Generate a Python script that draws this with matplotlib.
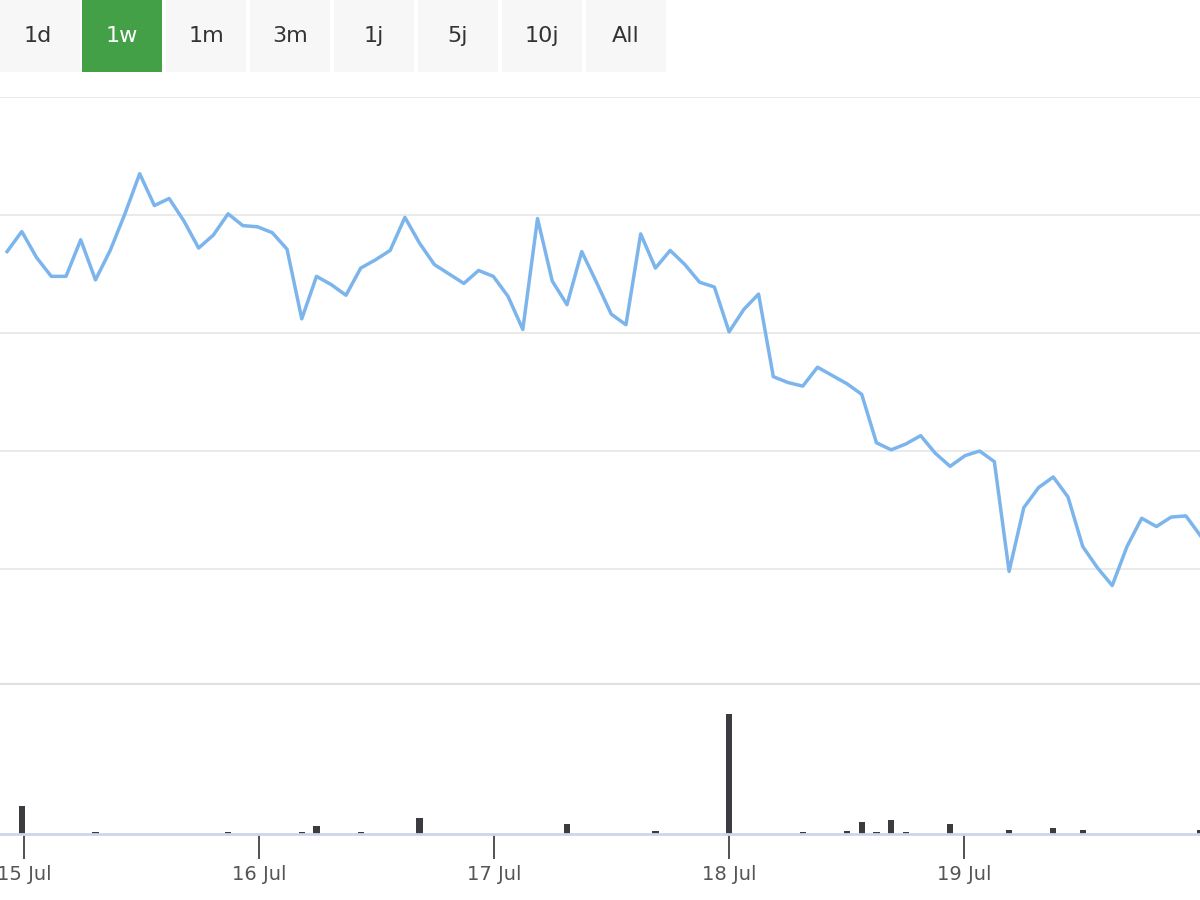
import numpy as np
import matplotlib
matplotlib.use("Agg")
import matplotlib.pyplot as plt
from matplotlib.patches import Rectangle

buttons = ["1d", "1w", "1m", "3m", "1j", "5j", "10j", "All"]
active = "1w"
prices = [3.69,3.86,3.64,3.48,3.48,3.79,3.45,3.70,4.01,4.35,4.08,4.14,3.95,3.72,3.83,4.01,
          3.91,3.90,3.85,3.71,3.12,3.48,3.41,3.32,3.55,3.62,3.70,3.98,3.76,3.58,3.50,3.42,
          3.53,3.48,3.31,3.03,3.97,3.44,3.24,3.69,3.43,3.16,3.07,3.84,3.55,3.70,3.58,3.43,
          3.39,3.01,3.20,3.33,2.63,2.58,2.55,2.71,2.64,2.57,2.48,2.07,2.01,2.06,2.13,1.98,
          1.87,1.96,2.00,1.91,0.98,1.52,1.69,1.78,1.61,1.19,1.01,0.86,1.19,1.43,1.36,1.44,
          1.45,1.28]
vol_idx = [1,6,15,20,21,24,28,38,44,49,54,57,58,59,60,61,64,68,71,73,81]
vol_val = [28000,2000,2000,2000,8000,2000,16000,10000,3000,120000,2000,3000,12000,2000,14000,2000,10000,4000,6000,4000,4000]
day_ticks = [15,16,17,18,19]
day_labels = ["15 Jul","16 Jul","17 Jul","18 Jul","19 Jul"]

n = len(prices)
t = 14.928 + np.arange(n) * 0.0627
volume = np.zeros(n)
for i, v in zip(vol_idx, vol_val):
    if i < n:
        volume[i] = v

fig = plt.figure(figsize=(12, 9), dpi=100)
fig.patch.set_facecolor("white")

for k, b in enumerate(buttons):
    x0 = k * 84 / 1200
    on = b == active
    fig.patches.append(Rectangle((x0 - 2/1200 if k else 0, 1 - 72/900), 80/1200, 72/900, transform=fig.transFigure,
                                 facecolor="#43a047" if on else "#f7f7f7", edgecolor="none"))
    fig.text(x0 + 38/1200, 1 - 36/900, b, ha="center", va="center", fontsize=16,
             color="white" if on else "#333333")

xl = (14.898, 20.004)
ax = fig.add_axes([0, 215/900, 1, 588/900])
ax.plot(t, prices, color="#7cb5ec", lw=2.5)
ax.set_xlim(*xl)
ax.set_ylim(0.017, 5)
ax.set_yticks([1, 2, 3, 4, 5])
ax.yaxis.grid(True, color="#e6e6e6", lw=1.2)
ax.tick_params(left=False, labelleft=False, bottom=False, labelbottom=False)
for s in ax.spines.values():
    s.set_visible(False)
ax.axhline(0.017, color="#e0e0e0", lw=3)

vx = fig.add_axes([0, 66/900, 1, 148/900])
vx.bar(t, volume, width=0.027, color="#3c3c40")
vx.set_xlim(*xl)
vx.set_ylim(0, 148000)
for s in ["top", "left", "right"]:
    vx.spines[s].set_visible(False)
vx.spines["bottom"].set_color("#ccd6eb")
vx.spines["bottom"].set_linewidth(2)
vx.set_yticks([])
vx.set_xticks(day_ticks)
vx.set_xticklabels(day_labels, fontsize=14, color="#555555")
vx.tick_params(axis="x", length=18, width=1.2, color="#333333", pad=4)

fig.savefig("out.png", dpi=100)
